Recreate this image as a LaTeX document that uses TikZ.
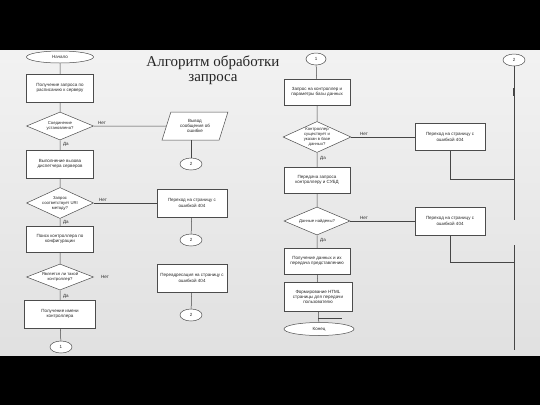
\documentclass[tikz,border=0pt]{standalone}
\usepackage{fontspec}
\setmainfont{Liberation Serif}
\newfontfamily\boxfont{Liberation Sans}
\usetikzlibrary{shapes.geometric}
\tikzset{
	line/.style={draw=gray!55!black, line width=0.5pt},
	base/.style={draw=gray!60!black, fill=white, line width=0.5pt, font=\boxfont\fontsize{4.5}{5.4}\selectfont, text=gray!30!black, align=center, inner sep=1pt},
	proc/.style={base, rectangle, minimum width=67pt, minimum height=28pt},
	term/.style={base, ellipse, minimum width=67pt, minimum height=12pt, inner sep=0pt},
	conn/.style={base, ellipse, minimum width=22pt, minimum height=12pt, inner sep=0pt},
	decis/.style={base, diamond, aspect=2.4, minimum width=67pt, minimum height=28pt, inner sep=-3pt, font=\boxfont\fontsize{4.2}{5}\selectfont},
	io/.style={base, trapezium, trapezium left angle=70, trapezium right angle=110, trapezium stretches=true, minimum width=66pt, minimum height=28pt},
	answer/.style={font=\boxfont\fontsize{4.5}{5}\selectfont, text=gray!30!black, inner sep=1pt}
}
\begin{document}
	\begin{tikzpicture}[x=1pt, y=-1pt]
		\useasboundingbox (0,0) rectangle (540,405);
		\fill[black] (0,0) rectangle (540,405);
		\shade[top color=gray!10, bottom color=gray!24] (0,50) rectangle (540,355);
		% title
		\node[font=\fontsize{15}{15}\selectfont, align=center, text=black!85] (title) at (213,70) {Алгоритм обработки\\запроса};
		% left column
		\node[term] (start) at (60,57) {Начало};
		\node[proc] (get) at (60,88) {Получение запроса по\\расписанию к серверу};
		\node[decis] (conn) at (60,126) {Соединение\\установлено?};
		\node[proc] (disp) at (60,164) {Выполнение вызова\\диспетчера серверов};
		\node[decis, minimum height=31pt] (uri) at (60,203) {Запрос\\соответствует URI\\методу?};
		\node[proc, minimum height=26pt] (find) at (60,239) {Поиск контроллера по\\конфигурации};
		\node[decis, minimum height=26pt] (isctrl) at (60,277) {Является ли такой\\контроллер?};
		\node[proc, minimum width=71pt] (name) at (60,314) {Получение имени\\контроллера};
		\node[conn] (out1) at (61,347) {1};
		% middle column
		\node[io] (msg) at (195,126) {Вывод\\сообщения об\\ошибке};
		\node[conn] (toa) at (191,164) {2};
		\node[proc, minimum width=70pt] (err1) at (192,203) {Переход на страницу с\\ошибкой 404};
		\node[conn] (tob) at (191,240) {2};
		\node[proc, minimum width=70pt] (err2) at (192,278) {Переадресация на страницу с\\ошибкой 404};
		\node[conn] (toc) at (191,315) {2};
		% right column
		\node[conn, minimum width=20pt] (in1) at (316,59) {1};
		\node[proc, minimum width=66pt, minimum height=26pt] (req) at (317,92) {Запрос на контроллер и\\параметры базы данных};
		\node[decis, minimum width=68pt, minimum height=31pt] (exists) at (317,137) {Контроллер\\существует и\\указан в базе\\данных?};
		\node[proc, minimum width=66pt, minimum height=26pt] (pass) at (317,180) {Передача запроса\\контроллеру и СУБД};
		\node[decis, minimum width=66pt] (found) at (317,221) {Данные найдены?};
		\node[proc, minimum width=66pt, minimum height=26pt] (data) at (317,261) {Получение данных и их\\передача представлению};
		\node[proc, minimum width=68pt, minimum height=29pt] (html) at (318,297) {Формирование HTML\\страницы для передачи\\пользователю};
		\node[term, minimum width=70pt, minimum height=13pt] (finish) at (319,329) {Конец};
		% far right
		\node[proc, minimum width=70pt, minimum height=27pt] (err3) at (450,137) {Переход на страницу с\\ошибкой 404};
		\node[proc, minimum width=70pt] (err4) at (450,221) {Переход на страницу с\\ошибкой 404};
		\node[conn] (in2) at (514,60) {2};
		\coordinate (v1) at (514,220);
		\coordinate (v2) at (514,245);
		\coordinate (v3) at (514,350);
		\coordinate (j1) at (514,179);
		\coordinate (j2) at (514,262);
		\coordinate (stub) at (342,318);
		% connectors
		\draw[line] (start) -- (get) -- (conn) -- (disp) -- (uri) -- (find) -- (isctrl) -- (name) -- (out1);
		\draw[line] (conn.east) -- (msg.west);
		\draw[line] (uri.east) -- (err1.west);
		\draw[line] (toa |- msg.south) -- (toa);
		\draw[line] (err1) -- (tob);
		\draw[line] (err2) -- (toc);
		\draw[line] (in1) -- (req) -- (exists) -- (pass) -- (found) -- (data) -- (html) -- (finish);
		\draw[line] (exists.east) -- (err3.west);
		\draw[line] (found.east) -- (err4.west);
		\draw[line] (err3.south) |- (j1);
		\draw[line] (err4.south) |- (j2);
		\draw[line] (in2) -- (v1);
		\draw[line] (v2) -- (v3);
		\draw[line, line width=1.2pt] (514,88) -- (514,96);
		\draw[line] (html.south |- stub) -- (stub);
		% answers
		\node[answer, anchor=south west] (n1) at (97,126) {Нет};
		\node[answer, anchor=west] (y1) at (62,144) {Да};
		\node[answer, anchor=south west] (n2) at (98,203) {Нет};
		\node[answer, anchor=west] (y2) at (62,222) {Да};
		\node[answer, anchor=west] (n3) at (100,277) {Нет};
		\node[answer, anchor=west] (y3) at (62,296) {Да};
		\node[answer, anchor=south west] (n4) at (359,137) {Нет};
		\node[answer, anchor=west] (y4) at (319,158) {Да};
		\node[answer, anchor=south west] (n5) at (359,221) {Нет};
		\node[answer, anchor=west] (y5) at (319,240) {Да};
	\end{tikzpicture}
\end{document}
